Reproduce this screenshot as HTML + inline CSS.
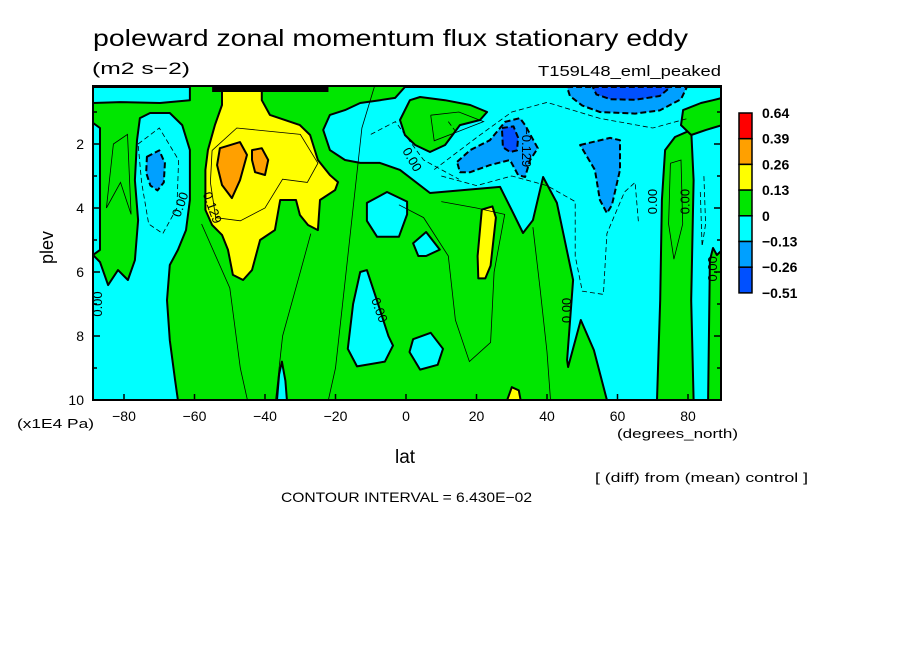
<!DOCTYPE html>
<html><head><meta charset="utf-8"><style>
body{margin:0;background:#fff}
svg{display:block;font-family:"Liberation Sans",sans-serif}
</style></head><body>
<svg id="chart" width="904" height="654" viewBox="0 0 904 654" xmlns="http://www.w3.org/2000/svg">
<rect width="904" height="654" fill="#fff"/>
<text x="93" y="46" font-size="23" textLength="595" lengthAdjust="spacingAndGlyphs">poleward zonal momentum flux stationary eddy</text>
<text x="92" y="74" font-size="17" textLength="98" lengthAdjust="spacingAndGlyphs">(m2 s−2)</text>
<text x="721" y="76" font-size="15" text-anchor="end" textLength="183" lengthAdjust="spacingAndGlyphs">T159L48_eml_peaked</text>
<defs><clipPath id="plotclip"><rect x="93" y="86" width="628" height="314"/></clipPath></defs>
<g id="plot" clip-path="url(#plotclip)"></g>
<g id="lines" clip-path="url(#plotclip)"></g>
<g id="axes"></g>
<g id="legend"></g>
<text x="0" y="0" font-size="18" transform="translate(53,264) rotate(-90)">plev</text>
<text x="17" y="428" font-size="13" textLength="77" lengthAdjust="spacingAndGlyphs">(x1E4 Pa)</text>
<text x="617" y="438" font-size="13" textLength="121" lengthAdjust="spacingAndGlyphs">(degrees_north)</text>
<text x="395" y="463" font-size="19">lat</text>
<text x="595" y="482" font-size="13" textLength="213" lengthAdjust="spacingAndGlyphs">[ (diff) from (mean) control ]</text>
<text x="281" y="502" font-size="14" textLength="251" lengthAdjust="spacingAndGlyphs">CONTOUR INTERVAL = 6.430E−02</text>
</svg>
<script>
const xTicks=[-80,-60,-40,-20,0,20,40,60,80];
const yTicks=[2,4,6,8,10];
const legendLabels=["0.64","0.39","0.26","0.13","0","−0.13","−0.26","−0.51"];
const legendColors=["#ff0000","#ffa000","#ffff00","#00e600","#00ffff","#00a0ff","#0050ff"];
const cyanLeftTop=[[-88.8,0.22],[-61.3,0.22],[-61.3,0.63],[-69.8,0.72],[-81.1,0.69],[-88.8,0.72]];
const cyanLeftMain=[[-75.5,1.19],[-72.6,1.03],[-67.0,1.03],[-63.5,1.41],[-61.3,2.19],[-61.3,3.75],[-62.4,4.69],[-64.7,5.31],[-67.0,5.78],[-67.8,6.88],[-67.0,8.13],[-65.5,9.38],[-64.7,10],[-88.8,10],[-88.8,5.47],[-86.8,5.69],[-84.5,6.41],[-81.7,5.94],[-78.9,6.25],[-76.9,5.63],[-76.0,4.38],[-76.9,3.13],[-76.3,1.88]];
const cyanLeftStrip=[[-88.8,1.34],[-86.8,1.5],[-86.8,5.31],[-88.8,5.47]];
const yellowMain=[[-52.2,0.22],[-40.9,0.22],[-40.9,0.63],[-38.6,1.09],[-30.1,1.41],[-27.2,1.72],[-25.0,2.5],[-21.6,2.97],[-19.3,3.19],[-20.1,3.44],[-24.4,3.75],[-25.0,4.69],[-27.8,4.53],[-30.1,4.22],[-31.2,3.75],[-35.7,3.75],[-37.2,4.69],[-41.4,5.0],[-43.7,5.94],[-46.2,6.25],[-49.1,6.09],[-50.5,5.31],[-52.2,4.84],[-55.0,4.53],[-56.9,4.06],[-56.9,2.81],[-56.2,2.19],[-54.2,1.41],[-52.2,0.78]];
const orange1=[[-52.8,2.13],[-47.1,1.94],[-45.1,2.34],[-47.1,3.13],[-49.4,3.69],[-52.2,3.28],[-53.6,2.66]];
const orange2=[[-43.7,2.19],[-40.9,2.13],[-39.1,2.5],[-40.0,2.97],[-42.8,2.88],[-43.7,2.5]];
const cyanRight=[[-23.5,1.56],[-21.6,1.09],[-17.3,0.94],[-13.0,0.72],[-7.4,0.63],[-3.1,0.56],[-0.3,0.22],[89.7,0.22],[89.7,10],[57.0,10],[53.3,8.44],[49.6,7.5],[46.0,8.97],[45.7,8.75],[47.4,6.25],[42.8,3.84],[38.9,3.03],[36.0,4.38],[33.2,4.78],[30.4,4.16],[26.7,3.34],[6.8,3.53],[-1.7,2.81],[-7.4,2.59],[-13.0,2.59],[-17.3,2.5],[-21.6,2.19]];
const greenTopLeft=[[-1.7,1.25],[1.1,0.63],[4.0,0.53],[11.1,0.63],[18.2,0.78],[23.0,1.0],[21.0,1.25],[15.3,1.41],[11.1,2.03],[6.8,2.25],[2.6,2.03],[-0.3,1.72]];
const greenRightCol=[[71.2,10],[72.1,6.88],[72.6,3.75],[73.5,2.19],[76.3,1.78],[80.9,1.56],[81.6,3.13],[80.9,6.88],[81.6,10]];
const greenTopRight=[[78.6,0.94],[83.7,0.72],[87.1,0.63],[89.7,0.56],[89.7,1.41],[85.1,1.56],[80.9,1.72],[78.0,1.41]];
const greenRightStrip=[[85.7,10],[86.2,5.63],[87.1,5.25],[88.2,5.47],[89.7,5.31],[89.7,10]];
const cyanBlobA=[[-11.1,3.84],[-5.4,3.5],[0.3,3.8],[0.3,4.2],[-2.0,4.9],[-8.2,4.9],[-11.1,4.4]];
const cyanBlobB=[[2.0,5.1],[5.7,4.75],[9.6,5.3],[5.7,5.5],[3.5,5.5]];
const cyanBlobC=[[-13.0,6.0],[-11.1,5.94],[-8.5,6.8],[-5.0,8.0],[-3.7,8.3],[-6.0,8.8],[-13.9,8.95],[-16.5,8.4],[-15.0,7.0]];
const cyanBlobD=[[2.0,8.1],[7.0,7.9],[10.5,8.4],[9.0,8.9],[4.0,9.05],[1.0,8.5]];
const cyanColE=[[-36.6,10],[-36.0,9.2],[-35.2,8.8],[-34.2,9.4],[-33.8,10]];
const yellowStreak=[[21.5,4.05],[24.5,3.95],[25.5,4.3],[24.0,5.8],[22.5,6.2],[20.5,6.2],[20.3,5.5]];
const yellowBottom=[[28.7,10],[30.0,9.6],[32.0,9.7],[32.5,10]];
const lbTop=[[45.7,0.22],[79.7,0.22],[78,0.6],[72,0.95],[65,1.05],[55,1.0],[50,0.8],[46.5,0.5]];
const blueTop=[[53,0.22],[75,0.22],[72,0.5],[65,0.62],[58,0.6],[54,0.45]];
const lbMid=[[14.5,2.56],[18.2,2.19],[23.8,1.88],[28.1,1.31],[32.3,1.19],[33.8,1.41],[37.4,2.13],[35.2,2.5],[33.8,3.03],[31.8,2.97],[29.5,2.5],[23.8,2.66],[18.2,2.88],[15.3,2.88]];
const blueMid=[[27.2,1.5],[30.5,1.45],[31.8,1.8],[31.5,2.2],[29.5,2.25],[27.5,2.1]];
const lbRight=[[49.4,2.03],[57.9,1.81],[60.7,1.88],[60.7,2.81],[58.4,3.91],[57.0,4.16],[55.0,3.75],[53.6,2.81]];
const blueLeft=[[-73.5,2.4],[-70,2.2],[-68.4,2.6],[-68.7,3.2],[-70.5,3.45],[-72.5,3.3],[-73.7,2.9]];
const thinSolid=[
 [[-55,2.2],[-48,1.5],[-30,1.7],[-25,2.6],[-28,3.2],[-35,3.1],[-40,4.0],[-47,4.4],[-54,4.3],[-55.5,3.2],[-55,2.2]],
 [[-85,4.0],[-83,2.0],[-79,1.7],[-78,4.2],[-81,3.2],[-85,4.0]],
 [[-27,4.8],[-30,6],[-35,8],[-37,10]],
 [[-9,0.22],[-12.5,1.5],[-15,4],[-17,6],[-20,9],[-22,10]],
 [[-58,4.5],[-50,6.5],[-47,9],[-45,10]],
 [[7,1.1],[15,1.0],[22,1.3],[15,1.6],[8,1.9],[7,1.1]],
 [[-2,3.9],[5,4.3],[12,5.5],[14,7.5],[18,8.8],[24,8.2],[25,6],[28,4.2],[20,4.0],[10,3.8]],
 [[36,4.6],[38,6.5],[40,8.5],[41,10]],
 [[75,2.6],[78,2.5],[78.5,4.5],[76,5.6],[74.5,4.5],[75,2.6]]
];
const thinDashed=[
 [[-76,2.0],[-70,1.5],[-64.5,2.5],[-65,4],[-69,4.8],[-73,4.5],[-75,3.2],[-76,2.0]],
 [[10,3.0],[20,3.3],[30,3.0],[40,3.3],[48,3.8],[48,5.5],[50,6.6],[56,6.7],[57,4.8],[62,3.5],[65,3.2],[66,4.5]],
 [[-10,1.7],[-3,1.3],[5,2.5],[15,3.1]],
 [[8,2.8],[20,1.8],[30,1.0],[40,0.7],[55,1.2],[70,1.5],[80,1.2]],
 [[83.5,3.5],[84,5.2],[85,4.5],[84.5,3.0]],
 [[12,1.3],[14,1.6]]
];
const labelTexts=["0.00","0.129","0.00","0.00","−0.129","0.00","0.00","0.00","0.00","0.00"];
const labelLat=[-63.8,-55.2,-7.8,1.5,33.9,45.8,70.3,79.4,87.3,-87.2];
const labelLev=[3.9,4.0,7.2,2.5,2.1,7.2,3.8,3.8,5.9,7.0];
const labelRot=[-70,70,70,60,90,-90,-90,-90,-90,-90];

const X0=93,X1=721,Y0=86,Y1=400;
function X(lat){return 406+lat*3.525;}
function Y(p){return 80+p*32;}
const NS="http://www.w3.org/2000/svg";
const plot=document.getElementById('plot'),lines=document.getElementById('lines'),axes=document.getElementById('axes'),legend=document.getElementById('legend');
function pts(a){return a.map(d=>X(d[0]).toFixed(1)+','+Y(d[1]).toFixed(1)).join(' ');}
function el(tag,attrs,parent){const e=document.createElementNS(NS,tag);for(const k in attrs)e.setAttribute(k,attrs[k]);parent.appendChild(e);return e;}
const bg=el('rect',{x:X0,y:Y0,width:X1-X0,height:Y1-Y0,fill:'#00e600'},plot);


const regions=[
 ['cyan-left-top',cyanLeftTop,'#00ffff',false],['cyan-left-main',cyanLeftMain,'#00ffff',false],['cyan-left-strip',cyanLeftStrip,'#00ffff',false],
 ['cyan-right',cyanRight,'#00ffff',false],['green-top-left',greenTopLeft,'#00e600',false],['green-right-column',greenRightCol,'#00e600',false],
 ['green-top-right',greenTopRight,'#00e600',false],['green-right-strip',greenRightStrip,'#00e600',false],
 ['cyan-blob-a',cyanBlobA,'#00ffff',false],['cyan-blob-b',cyanBlobB,'#00ffff',false],['cyan-blob-c',cyanBlobC,'#00ffff',false],['cyan-blob-d',cyanBlobD,'#00ffff',false],['cyan-column-e',cyanColE,'#00ffff',false],
 ['yellow-main',yellowMain,'#ffff00',false],['yellow-streak',yellowStreak,'#ffff00',false],['yellow-bottom',yellowBottom,'#ffff00',false],
 ['orange-blob-1',orange1,'#ffa000',false],['orange-blob-2',orange2,'#ffa000',false],
 ['lightblue-top',lbTop,'#00a0ff',true],['blue-top',blueTop,'#0050ff',true],['lightblue-mid',lbMid,'#00a0ff',true],['blue-mid',blueMid,'#0050ff',true],
 ['lightblue-right',lbRight,'#00a0ff',true],['lightblue-left',blueLeft,'#00a0ff',true]
];
regions.forEach(r=>{
 const p=el('polygon',{points:pts(r[1]),fill:r[2],stroke:'#000','stroke-width':2,'stroke-linejoin':'round'},plot);
 if(r[3])p.setAttribute('stroke-dasharray','6,3');
 
 
});
thinSolid.forEach(a=>{
 const l=el('polyline',{points:pts(a),fill:'none',stroke:'#000','stroke-width':0.8},lines);
 
 
});
thinDashed.forEach(a=>{
 const l=el('polyline',{points:pts(a),fill:'none',stroke:'#000','stroke-width':0.8,'stroke-dasharray':'5,3'},lines);
 
 
});
const topBand=el('rect',{x:X(-55),y:Y0,width:X(-22)-X(-55),height:6,fill:'#000'},lines);


labelTexts.forEach((t,i)=>{
 const tx=el('text',{x:0,y:0,'font-size':13,'text-anchor':'middle','dominant-baseline':'middle',transform:`translate(${X(labelLat[i]).toFixed(1)},${Y(labelLev[i]).toFixed(1)}) rotate(${labelRot[i]})`},lines);
 tx.textContent=t;
 
 
});
const frame=el('rect',{x:X0,y:Y0,width:X1-X0,height:Y1-Y0,fill:'none',stroke:'#000','stroke-width':2},axes);


xTicks.forEach(v=>{
 const t=el('line',{x1:X(v),x2:X(v),y1:Y1,y2:Y1-6,stroke:'#000','stroke-width':1.5},axes);
 
 
 const tx=el('text',{x:X(v),y:Y1+21,'font-size':14,'text-anchor':'middle'},axes);
 tx.textContent=v<0?'−'+(-v):String(v);
 
 
});
yTicks.forEach(v=>{
 [v,v-1].forEach((w,j)=>{
  const t=el('line',{x1:X0,x2:X0+(j?4:7),y1:Y(w),y2:Y(w),stroke:'#000','stroke-width':1.5},axes);
  
  
  const t2=el('line',{x1:X1,x2:X1-(j?4:7),y1:Y(w),y2:Y(w),stroke:'#000','stroke-width':1.5},axes);
  
  
 });
 const tx=el('text',{x:X0-9,y:Y(v)+5,'font-size':14,'text-anchor':'end'},axes);
 tx.textContent=String(v);
 
 
});
const LX=739,LY=113,LH=25.7;
legendColors.forEach((c,i)=>{
 const r=el('rect',{x:LX,y:LY+i*LH,width:13,height:LH,fill:c,stroke:'#000','stroke-width':1.5},legend);
 
 
});
legendLabels.forEach((t,i)=>{
 const tx=el('text',{x:762,y:LY+i*LH+5,'font-size':14,'font-weight':'bold'},legend);
 tx.textContent=t;
 
 
});
</script>
</body></html>
